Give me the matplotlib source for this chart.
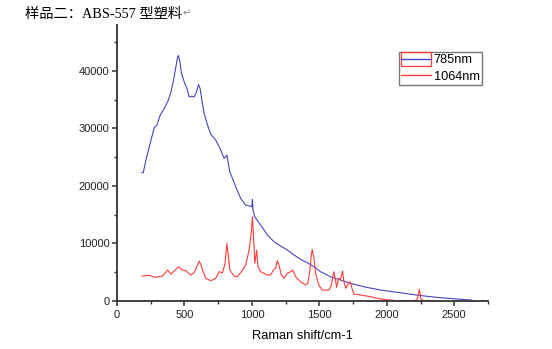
import matplotlib
matplotlib.use("Agg")
import matplotlib.pyplot as plt
from matplotlib.patches import Patch, Rectangle
from matplotlib.lines import Line2D
from matplotlib.legend_handler import HandlerPatch, HandlerTuple

# ---- data ----
x_785 = [185, 195, 214, 239, 276, 296, 320, 350, 380, 400, 419, 436, 449, 456, 468,
         478, 498, 518, 535, 555, 572, 589, 604, 616, 629, 646, 671, 695, 732, 764,
         794, 804, 814, 823, 836, 856, 880, 917, 954, 986, 999, 1004, 1008, 1021,
         1065, 1115, 1164, 1213, 1263, 1312, 1361, 1411, 1460, 1509, 1583, 1657,
         1731, 1829, 1953, 2076, 2200, 2322, 2420, 2520, 2631]
y_785 = [22300, 22300, 24470, 26780, 30150, 30560, 32300, 33460, 34900, 36350, 38380,
         40700, 42430, 42700, 41290, 39550, 38090, 36940, 35480, 35600, 35480, 36350,
         37630, 36940, 34900, 32590, 30560, 28990, 27950, 26500, 24770, 25040, 25340,
         24170, 22430, 21290, 19830, 17800, 16640, 16470, 16350, 17630, 15770, 14610,
         13170, 11430, 10260, 9510, 8820, 7950, 7200, 6610, 5910, 5040, 4170, 3600,
         3030, 2430, 1860, 1460, 1050, 700, 480, 300, 100]

x_1064 = [185, 239, 276, 338, 375, 399, 419, 456, 486, 510, 547, 572, 590, 609, 622,
          634, 658, 695, 732, 757, 782, 801, 814, 826, 836, 868, 893, 925, 954, 979,
          996, 1004, 1012, 1022, 1035, 1045, 1065, 1115, 1139, 1159, 1176, 1188, 1201,
          1218, 1238, 1263, 1287, 1304, 1324, 1361, 1398, 1415, 1430, 1440, 1447, 1460,
          1472, 1496, 1521, 1570, 1590, 1600, 1607, 1620, 1627, 1644, 1657, 1672, 1684,
          1696, 1716, 1729, 1738, 1755, 1805, 1879, 1953, 2076, 2212, 2229, 2241, 2253,
          2273, 2350]
y_1064 = [4300, 4420, 4070, 4300, 5340, 4640, 5040, 5910, 5340, 5220, 4470, 4870, 5800,
          6900, 6300, 5340, 3900, 3480, 3900, 5040, 4870, 6500, 9980, 7650, 5340, 4300,
          4170, 5170, 6210, 8820, 12000, 14610, 11000, 6500, 8820, 5910, 5040, 4470,
          4470, 5340, 5630, 6960, 6210, 4470, 3900, 4770, 5040, 5340, 4170, 3300, 2730,
          3030, 5340, 7950, 8940, 7370, 4770, 2730, 1860, 1860, 2730, 4300, 5040, 3600,
          2330, 3900, 3720, 5170, 3030, 2160, 3030, 3300, 2430, 1170, 990, 700, 300, 0,
          0, 470, 1980, 300, -50, 0]

labels = ["785nm", "1064nm"]
x_ticks = [0, 500, 1000, 1500, 2000, 2500]
y_ticks = [0, 10000, 20000, 30000, 40000]
title_text = "样品二：ABS-557 型塑料"

blue = "#4545c4"
red = "#ff3b3b"

fig = plt.figure(figsize=(5.52, 3.49), dpi=100)
ax = fig.add_axes([0.212, 0.1384, 0.672, 0.79])

ax.plot(x_785, y_785, color=blue, lw=0.8)
ax.plot(x_1064, y_1064, color=red, lw=0.8)

ax.set_xlim(0, 2750)
ax.set_ylim(0, 48000)
ax.set_xticks(x_ticks)
ax.set_yticks(y_ticks)
ax.set_xticks([250, 750, 1250, 1750, 2250, 2750], minor=True)
ax.set_yticks([5000, 15000, 25000, 35000, 45000], minor=True)
for s in ["top", "right"]:
    ax.spines[s].set_visible(False)
for s in ["left", "bottom"]:
    ax.spines[s].set_linewidth(1.3)
    ax.spines[s].set_color("#333333")
ax.tick_params(which="major", direction="out", length=3.5, width=1.1,
               color="#333333", labelsize=8, labelcolor="#222222",
               labelfontfamily="Liberation Sans")
ax.tick_params(axis="y", which="major", pad=2)
ax.tick_params(axis="x", which="major", pad=3.5)
ax.tick_params(which="minor", direction="out", length=2.5, width=1.0, color="#333333")
ax.set_xlabel("Raman shift/cm-1", fontsize=9.3, family="Liberation Sans", labelpad=7)

def tall_rect(legend, orig_handle, xdescent, ydescent, width, height, fontsize):
    return Rectangle((-xdescent, -ydescent - 0.3 * height), width, 1.6 * height)

h_box = Patch(facecolor="none", edgecolor=red, lw=0.9)
h_b = Line2D([], [], color=blue, lw=1.0)
h_r = Line2D([], [], color=red, lw=1.0)
leg = ax.legend([(h_box, h_b), h_r], labels,
                handler_map={Patch: HandlerPatch(patch_func=tall_rect),
                             tuple: HandlerTuple(ndivide=1)},
                loc="upper left", bbox_to_anchor=(0.759, 0.903),
                prop={"family": "Liberation Sans", "size": 9.2},
                frameon=True, fancybox=False, borderpad=0.2,
                labelspacing=0.35, handlelength=2.3, handletextpad=0.25,
                borderaxespad=0)
leg.get_frame().set_edgecolor("#555555")
leg.get_frame().set_linewidth(1.0)

t = fig.text(25 / 552, 1 - 14 / 349, title_text, fontsize=10.3,
             family=["Liberation Serif", "Noto Sans CJK SC", "DejaVu Sans"],
             va="center", ha="left", color="black")
ax.annotate("↵", xy=(1, 0.15), xycoords=t, fontsize=7, color="#888888",
            family=["DejaVu Sans"], va="bottom", ha="left")

fig.savefig("out.png", dpi=100)
